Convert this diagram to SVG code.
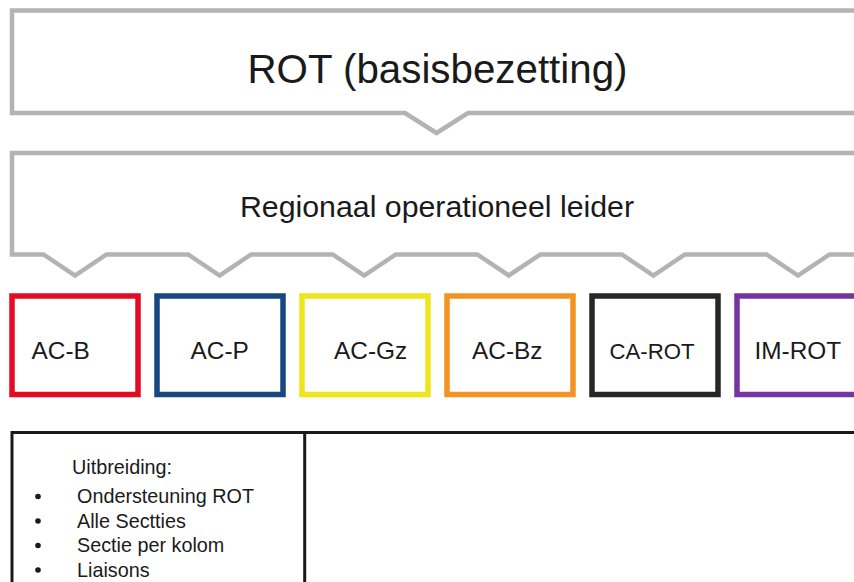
<svg xmlns="http://www.w3.org/2000/svg" width="854" height="582" viewBox="0 0 854 582">
  <style>
    text { font-family: "Liberation Sans", Arial, sans-serif; fill: #1a1a1a; }
    .callout { fill: #ffffff; stroke: #b3b3b3; stroke-width: 4.5; stroke-linejoin: miter; }
    .unit { fill: #ffffff; stroke-width: 5.5; }
    .unit-label { font-size: 24.4px; }
    .grid { fill: none; stroke: #1a1a1a; stroke-width: 3; }
    .item { font-size: 19.8px; }
  </style>

  <rect width="854" height="582" fill="#ffffff"/>

  <!-- Top level: ROT -->
  <g id="rot">
    <path class="callout" d="M 870 10.5 H 12 V 113 H 405 L 436.5 133 L 468 113 H 870"/>
    <text x="437.5" y="82.5" font-size="40.3" text-anchor="middle">ROT (basisbezetting)</text>
  </g>

  <!-- Regional operational leader -->
  <g id="rol">
    <path class="callout" d="M 870 153 H 12 V 254.5 H 43.5 L 75 275.5 L 106.5 254.5 H 188.1 L 219.6 275.5 L 251.1 254.5 H 332.7 L 364.2 275.5 L 395.7 254.5 H 477.3 L 508.8 275.5 L 540.3 254.5 H 621.9 L 653.4 275.5 L 684.9 254.5 H 766.5 L 798 275.5 L 829.5 254.5 H 870"/>
    <text x="437" y="216.5" font-size="30.3" text-anchor="middle">Regionaal operationeel leider</text>
  </g>

  <!-- Units -->
  <g id="ac-b">
    <rect class="unit" x="12" y="296" width="126" height="98.5" stroke="#e30c25"/>
    <text class="unit-label" x="31.5" y="359">AC-B</text>
  </g>
  <g id="ac-p">
    <rect class="unit" x="157" y="296" width="126" height="98.5" stroke="#17477f"/>
    <text class="unit-label" x="190.5" y="359">AC-P</text>
  </g>
  <g id="ac-gz">
    <rect class="unit" x="302" y="296" width="126" height="98.5" stroke="#f0e41c"/>
    <text class="unit-label" x="334" y="359">AC-Gz</text>
  </g>
  <g id="ac-bz">
    <rect class="unit" x="447" y="296" width="126" height="98.5" stroke="#f39422"/>
    <text class="unit-label" x="472" y="359">AC-Bz</text>
  </g>
  <g id="ca-rot">
    <rect class="unit" x="592" y="296" width="126" height="98.5" stroke="#262626"/>
    <text x="609.5" y="359" font-size="22.2">CA-ROT</text>
  </g>
  <g id="im-rot">
    <rect class="unit" x="737" y="296" width="126" height="98.5" stroke="#7535a0"/>
    <text class="unit-label" x="754.5" y="359">IM-ROT</text>
  </g>

  <!-- Expansion table -->
  <g id="uitbreiding">
    <path class="grid" d="M 12 600 V 432.5 H 870 M 304.7 432.5 V 600"/>
    <text class="item" x="72" y="473.5">Uitbreiding:</text>
    <g fill="#1a1a1a">
      <circle cx="38" cy="496.5" r="2.8"/>
      <circle cx="38" cy="521" r="2.8"/>
      <circle cx="38" cy="545.5" r="2.8"/>
      <circle cx="38" cy="570" r="2.8"/>
    </g>
    <text class="item" x="77" y="503">Ondersteuning ROT</text>
    <text class="item" x="77" y="527.5">Alle Sectties</text>
    <text class="item" x="77" y="552">Sectie per kolom</text>
    <text class="item" x="77" y="576.5">Liaisons</text>
  </g>

  <!-- Connectors are drawn as the callout notches of the boxes above -->
  <g id="connectors"></g>
</svg>
